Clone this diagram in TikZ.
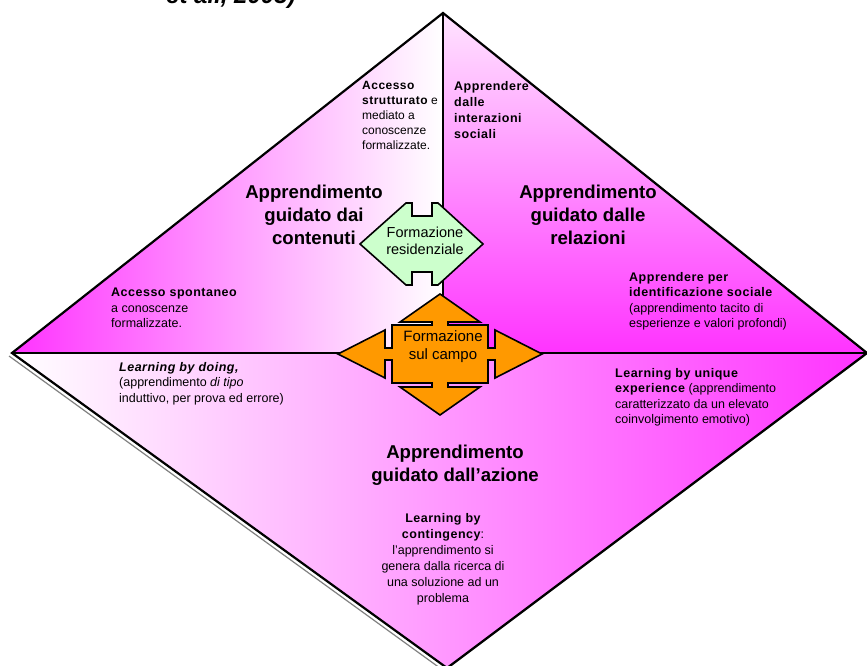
\documentclass[tikz,border=0pt]{standalone}
\usepackage{fontspec}
\setmainfont{Liberation Sans}
\newfontfamily\kwfont{Liberation Sans}[LetterSpace=4]
\definecolor{fuchsia}{RGB}{255,51,255}
\definecolor{blush}{RGB}{255,228,255}
\definecolor{mint}{RGB}{204,255,204}
\definecolor{amber}{RGB}{255,153,0}
\newcommand{\kw}[1]{{\kwfont\bfseries #1}}
\newcommand{\kwit}[1]{{\kwfont\bfseries\itshape #1}}

\begin{document}
\begin{tikzpicture}[x=1pt,y=-1pt,
	edge/.style={line width=2.2pt, line join=miter},
	arrowshape/.style={line width=1.6pt, line join=miter},
	title/.style={font=\fontsize{18.6}{22.8}\selectfont\bfseries, align=center, anchor=north, inner sep=0pt},
	note/.style={font=\fontsize{12.5}{15.5}\selectfont, align=left, anchor=north west, inner sep=0pt},
	label/.style={font=\fontsize{14.5}{17.5}\selectfont, align=center, inner sep=0pt}]
	
	\useasboundingbox (0,0) rectangle (867,666);
	
	\coordinate (top) at (443,13);
	\coordinate (left) at (12,353);
	\coordinate (right) at (867,353);
	\coordinate (bottom) at (447,668);
	\coordinate (mid) at (443,353);
	
	% shadow of the lower edges
	\draw[gray, line width=1.2pt] ([xshift=-3pt,yshift=-3pt]left) -- ([xshift=-3pt,yshift=-3pt]bottom) -- ([xshift=-3pt,yshift=-3pt]right);
	
	% the three areas
	\fill[left color=fuchsia, right color=white] (left) -- (top) -- (mid) -- cycle;
	\fill[top color=blush, bottom color=fuchsia] (top) -- (right) -- (mid) -- cycle;
	\fill[left color=white, right color=fuchsia] (left) -- (right) -- (bottom) -- cycle;
	
	\draw[edge] (left) -- (top) -- (right) -- (bottom) -- cycle;
	\draw[edge] (left) -- (right);
	\draw[edge] (top) -- (mid);
	
	% formazione residenziale
	\draw[arrowshape, fill=mint] (360,244) -- (406,203) -- (412,203) -- (412,216) -- (432,216) -- (432,203)
		-- (438,203) -- (483,244) -- (438,285) -- (432,285) -- (432,272) -- (412,272) -- (412,285)
		-- (406,285) -- cycle;
	\node[label] (resid) at (425,241) {Formazione\\residenziale};
	
	% formazione sul campo
	\draw[arrowshape, fill=amber] (440,294) -- (480,322) -- (448,322) -- (448,325) -- (488,325) -- (488,348)
		-- (495,348) -- (495,330) -- (542,354) -- (495,378) -- (495,360) -- (488,360) -- (488,383)
		-- (448,383) -- (448,387) -- (480,387) -- (440,415) -- (400,387) -- (432,387) -- (432,383)
		-- (392,383) -- (392,360) -- (385,360) -- (385,378) -- (338,354) -- (385,330) -- (385,348)
		-- (392,348) -- (392,325) -- (432,325) -- (432,322) -- (400,322) -- cycle;
	\node[label, font=\fontsize{15}{18}\selectfont] (campo) at (443,347) {Formazione\\sul campo};
	
	% titles
	\node[title] (contenuti) at (314,185) {Apprendimento\\guidato dai\\contenuti};
	\node[title] (relazioni) at (588,185) {Apprendimento\\guidato dalle\\relazioni};
	\node[title] (azione) at (455,445) {Apprendimento\\guidato dall'azione};
	
	% notes
	\node[note, font=\fontsize{12}{15}\selectfont] (strutt) at (362,81)
		{\kw{Accesso}\\\kw{strutturato} e\\mediato a\\conoscenze\\formalizzate.};
	\node[note, font=\fontsize{12.5}{16}\selectfont] (sociali) at (454,81)
		{\kw{Apprendere}\\\kw{dalle}\\\kw{interazioni}\\\kw{sociali}};
	\node[note] (spont) at (111,288)
		{\kw{Accesso spontaneo}\\a conoscenze\\formalizzate.};
	\node[note] (doing) at (119,362)
		{\kwit{Learning by doing,}\\(apprendimento \textit{di tipo}\\induttivo, per prova ed errore)};
	\node[note] (identif) at (629,272)
		{\kw{Apprendere per}\\\kw{identificazione sociale}\\(apprendimento tacito di\\esperienze e valori profondi)};
	\node[note] (unique) at (615,368)
		{\kw{Learning by unique}\\\kw{experience} (apprendimento\\caratterizzato da un elevato\\coinvolgimento emotivo)};
	\node[note, align=center, anchor=north, font=\fontsize{12.5}{16}\selectfont] (conting) at (443,513)
		{\kw{Learning by}\\\kw{contingency}:\\l'apprendimento si\\genera dalla ricerca di\\una soluzione ad un\\problema};
	
	% cut caption line at the top
	\node[font=\fontsize{24}{24}\selectfont\bfseries\itshape, anchor=base west, inner sep=0pt] (cite) at (166,4) {et al., 2003)};
	
\end{tikzpicture}
\end{document}
